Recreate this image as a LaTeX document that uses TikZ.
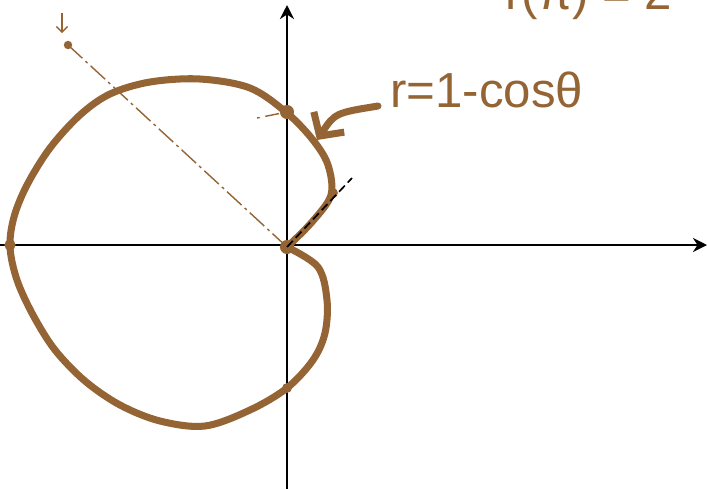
\documentclass[tikz,border=0pt]{standalone}
\usepackage{fontspec}
\setmainfont{Liberation Sans}
\usetikzlibrary{arrows.meta}
\definecolor{pen}{RGB}{148,100,52}
\tikzset{
  dot/.style={circle, fill=pen, inner sep=0pt, minimum size=#1},
  dot/.default=9pt,
  curve/.style={pen, line width=5pt, line cap=round, line join=round},
  axis/.style={line width=1.8pt, -{Stealth[length=10pt,width=10pt]}},
  ray/.style={pen, line width=1pt, dash pattern=on 14pt off 3pt on 2pt off 3pt},
  scribble/.style={font=\fontsize{35}{38}\selectfont, text=pen, inner sep=0pt}
}

\begin{document}
\begin{tikzpicture}[x=0.025cm, y=-0.025cm]

    \useasboundingbox (0,0) rectangle (707,489);

    % axes
    \coordinate (xl) at (0,245);
    \coordinate (xr) at (707,245);
    \coordinate (yb) at (287,489);
    \coordinate (yt) at (287,5);
    \draw[axis] (xl) -- (xr);
    \draw[axis] (yb) -- (yt);

    % the ray at 138 degrees
    \node (o) at (287,247) [dot=10pt] {};
    \coordinate (rayend) at (68,45);
    \draw[ray] (o.center) -- (rayend);
    \fill[pen] (rayend) circle (3pt);
    \coordinate (tickA) at (62,13);
    \coordinate (tickB) at (62,33);
    \draw[pen, line width=0.9pt, -{Straight Barb[length=4pt,width=8pt]}] (tickA) -- (tickB);

    % cardioid
    \draw[curve] plot[smooth, tension=0.55] coordinates {
      (287,247) (312,222) (331,195) (328,165) (313,140) (287,113)
      (250,88) (200,79) (150,82) (110,94) (80,115) (50,148)
      (27,185) (14,217) (10,247) (17,280) (33,315) (55,350)
      (85,381) (120,405) (160,421) (205,426) (250,410)
      (287,388) (313,360) (325,333) (327,300) (318,267) (287,247)};

    % marked points
    \node (top)   at (287,112) [dot=10pt] {};
    \node (left)  at (10,245)  [dot=8pt] {};
    \node (mid)   at (333,193) [dot=7pt] {};
    \node (bot)   at (287,388) [dot=7pt] {};

    \coordinate (dashA) at (257,118);
    \draw[pen, line width=1pt, dash pattern=on 2pt off 4pt on 10pt off 2pt] (dashA) -- (top);

    \coordinate (dd) at (352,178);
    \draw[dashed, line width=1.2pt, dash pattern=on 6pt off 3pt] (o.center) -- (dd);

    % label
    \node (lbl) at (390,90) [scribble, anchor=west] {r=1-cosθ};
    \coordinate (shaft) at (378,106);
    \coordinate (hit) at (317,140);
    \draw[curve, -{Straight Barb[length=12pt,width=26pt]}] (shaft) .. controls (335,113) .. (hit);

    % cut-off line at the top
    \node (rpi) at (505,9) [scribble, anchor=base west] {r(π) = 2};

\end{tikzpicture}
\end{document}
